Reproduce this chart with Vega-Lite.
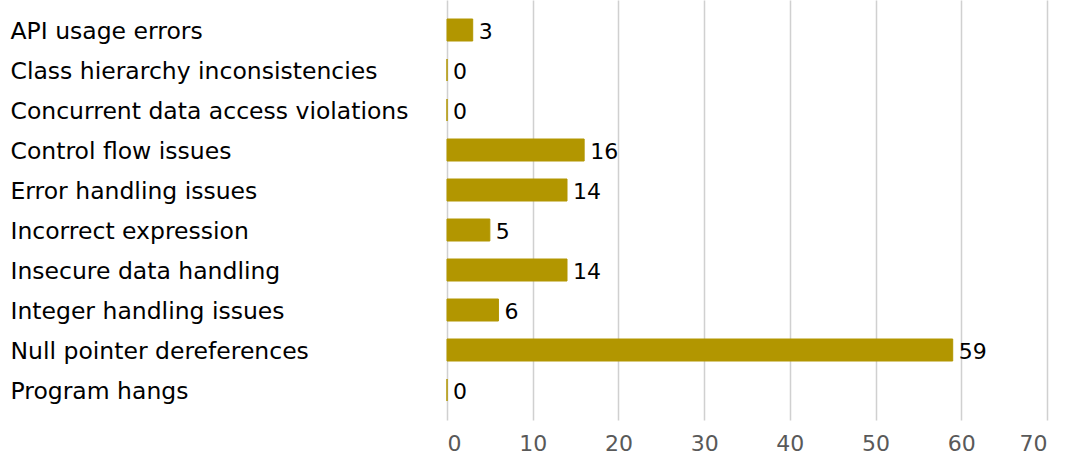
{
  "$schema": "https://vega.github.io/schema/vega-lite/v6.json",
  "autosize": {"type": "none"},
  "padding": {"left": 447, "top": 0, "right": 19, "bottom": 40},
  "width": 600,
  "height": 420,
  "background": "white",
  "config": {"view": {"stroke": null}, "font": "DejaVu Sans"},
  "data": {"values": [
    {"category": "API usage errors", "count": 3},
    {"category": "Class hierarchy inconsistencies", "count": 0},
    {"category": "Concurrent data access violations", "count": 0},
    {"category": "Control flow issues", "count": 16},
    {"category": "Error handling issues", "count": 14},
    {"category": "Incorrect expression", "count": 5},
    {"category": "Insecure data handling", "count": 14},
    {"category": "Integer handling issues", "count": 6},
    {"category": "Null pointer dereferences", "count": 59},
    {"category": "Program hangs", "count": 0}
  ]},
  "encoding": {
    "y": {
      "field": "category", "type": "nominal", "sort": null,
      "scale": {"paddingInner": 0.45, "paddingOuter": 0.475},
      "axis": {
        "title": null, "domain": false, "ticks": false,
        "labelAlign": "left", "labelPadding": 437, "labelFontSize": 23.5, "labelOffset": 1.5,
        "labelColor": "#000000", "labelFont": "DejaVu Sans", "labelLimit": 500
      }
    },
    "x": {
      "field": "count", "type": "quantitative",
      "scale": {"domain": [0, 70]},
      "axis": {
        "title": null, "domain": false, "ticks": false, "values": [0,10,20,30,40,50,60,70],
        "labelFontSize": 22, "labelColor": "#595959", "labelPadding": 13,
        "gridColor": "#d0d0d0", "gridWidth": 1.5, "labelFont": "DejaVu Sans"
      }
    }
  },
  "layer": [
    {"mark": {"type": "bar", "color": "#B29600", "stroke": "#B29600", "strokeWidth": 1}},
    {"mark": {"type": "text", "align": "left", "dx": 6, "dy": 1.5, "fontSize": 22, "color": "#000000", "font": "DejaVu Sans"},
     "encoding": {"text": {"field": "count", "type": "quantitative"}}}
  ]
}
